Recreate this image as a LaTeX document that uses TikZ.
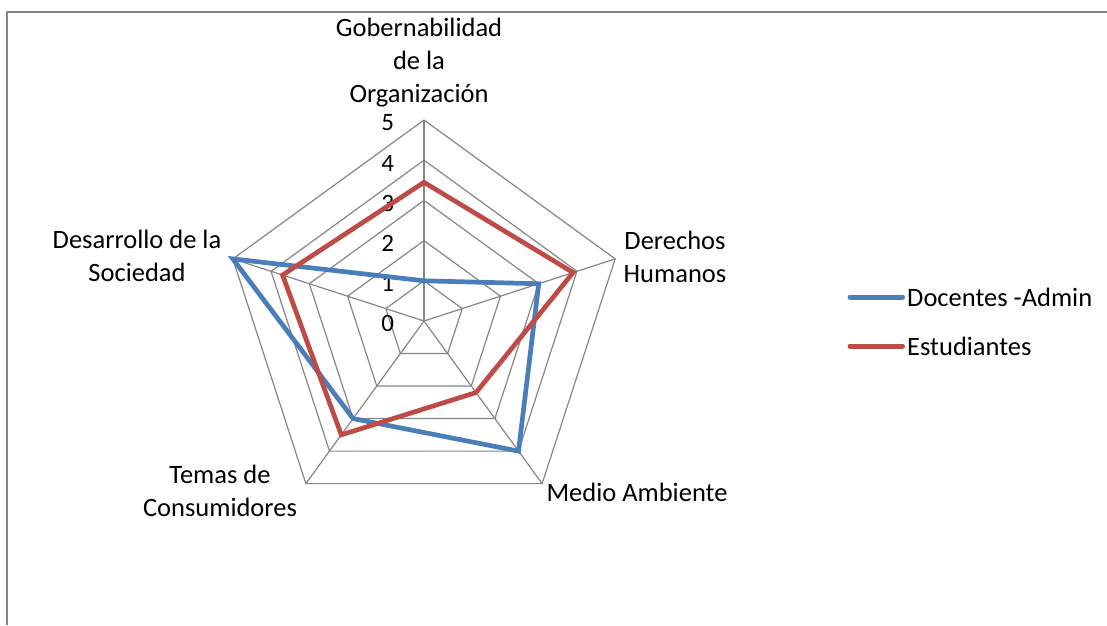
\documentclass[tikz,border=0pt]{standalone}
\usepackage{fontspec}
\setmainfont{Carlito}
\definecolor{gridgray}{HTML}{868686}
\definecolor{docblue}{HTML}{4A7EBB}
\definecolor{estred}{HTML}{BE4B48}
\tikzset{
  grid line/.style = {gridgray, line width=1.2pt},
  serie/.style = {line width=4.7pt, line join=miter},
  axis label/.style = {align=center, inner sep=0pt, font=\fontsize{26.5}{33}\selectfont},
  tick label/.style = {anchor=east, inner sep=0pt, font=\fontsize{25}{30}\selectfont},
}
\begin{document}
\begin{tikzpicture}[x=1pt, y=1pt]
    \useasboundingbox (0,0) rectangle (1107,-625);
    % frame of the chart area
    \draw[gridgray, line width=2pt] (7,-625) -- (7,-12) -- (1107,-12);

    \begin{scope}[shift={(424,-321)}, x=40.2pt, y=40.2pt]
        % rings and spokes
        \foreach \r in {1,...,5}
            \draw[grid line] (90:\r) -- (18:\r) -- (-54:\r) -- (-126:\r) -- (162:\r) -- cycle;
        \foreach \a in {18,-54,-126,162}
            \draw[grid line] (0,0) -- (\a:5);
        \draw[grid line, line width=2pt] (0,0) -- (90:5);

        % scale
        \foreach \r in {0,...,5}
            \node[tick label] (tick\r) at (-0.74,\r-0.07) {\r};

        % Docentes -Admin
        \draw[serie, docblue] (90:1) -- (18:3) -- (-54:4) -- (-126:3) -- (162:5) -- cycle;
        % Estudiantes
        \draw[serie, estred] (90:3.45) -- (18:3.9) -- (-54:2.2) -- (-126:3.5) -- (162:3.7) -- cycle;
    \end{scope}

    \begin{scope}[every node/.style = {axis label}]
        \node (gob) at (419,-63) {Gobernabilidad\\de la\\Organización};
        \node (dh) at (675,-256.5) {Derechos\\Humanos};
        \node (ma) at (637,-492) {Medio Ambiente};
        \node (tc) at (220,-491) {Temas de\\Consumidores};
        \node (ds) at (137,-256) {Desarrollo de la\\Sociedad};
    \end{scope}

    % legend
    \node[axis label, anchor=west] (docentes) at (907,-297) {Docentes -Admin};
    \node[axis label, anchor=west] (estudiantes) at (907,-346) {Estudiantes};
    \coordinate (docstart) at (850,-297);
    \coordinate (eststart) at (850,-346);
    \draw[docblue, line width=5pt, line cap=round] (docstart) -- ([xshift=-4.5pt]docentes.west);
    \draw[estred, line width=5pt, line cap=round] (eststart) -- ([xshift=-4.5pt]estudiantes.west);
\end{tikzpicture}
\end{document}
